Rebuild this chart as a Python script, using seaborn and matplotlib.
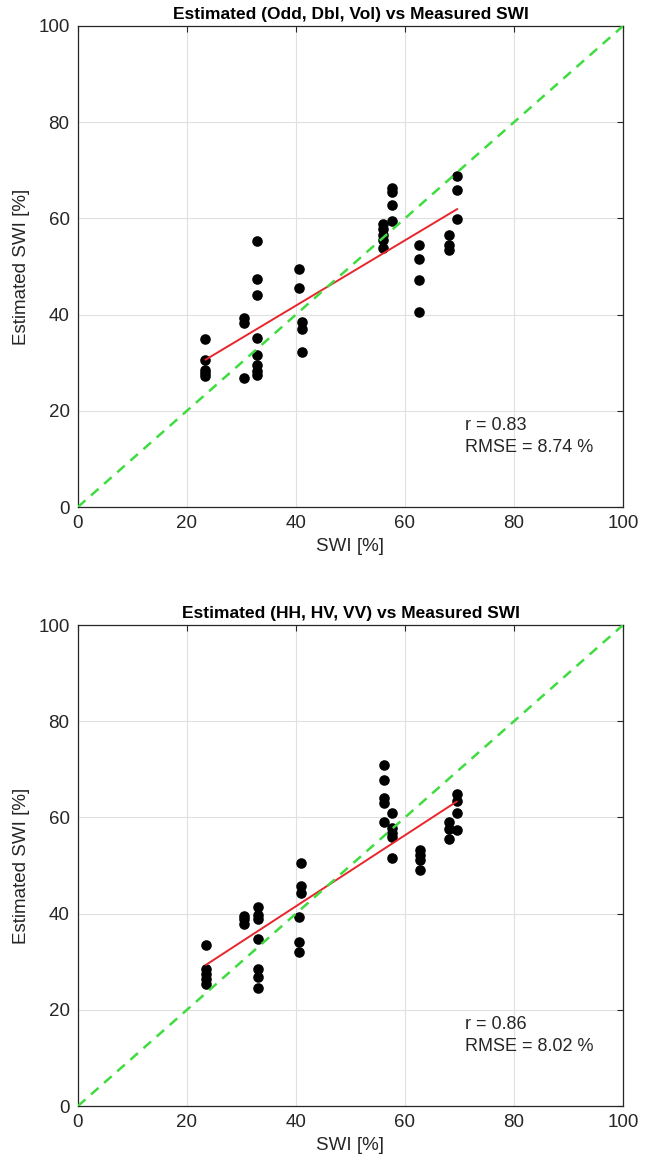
import numpy as np
import pandas as pd
import seaborn as sns
import matplotlib.pyplot as plt

# measured vs estimated SWI
odd_measured = [23.4, 23.4, 23.4, 23.4, 23.4,
                30.5, 30.5, 30.5,
                32.9, 32.9, 32.9, 32.9, 32.9, 32.9, 32.9, 32.9,
                40.6, 40.6,
                41.1, 41.1, 41.1,
                56.0, 56.0, 56.0, 56.0, 56.0,
                57.6, 57.6, 57.6, 57.6,
                62.6, 62.6, 62.6, 62.6,
                68.0, 68.0, 68.0,
                69.6, 69.6, 69.6]
odd_estimated = [35.0, 30.5, 28.5, 27.8, 27.2,
                 39.2, 38.3, 26.8,
                 55.4, 47.5, 44.0, 35.2, 31.5, 29.5, 28.2, 27.5,
                 49.4, 45.5,
                 38.5, 37.1, 32.2,
                 58.8, 57.8, 56.6, 55.5, 53.9,
                 66.4, 65.5, 62.7, 59.5,
                 54.4, 51.6, 47.1, 40.6,
                 56.6, 54.4, 53.4,
                 68.9, 66.0, 59.8]

hh_measured = [23.5, 23.5, 23.5, 23.5, 23.5,
               30.5, 30.5, 30.5,
               33.0, 33.0, 33.0, 33.0, 33.0, 33.0, 33.0,
               40.5, 40.5, 40.5,
               41.0, 41.0, 41.0,
               56.1, 56.1, 56.1, 56.1, 56.1,
               57.6, 57.6, 57.6, 57.6, 57.6,
               62.7, 62.7, 62.7, 62.7,
               68.0, 68.0, 68.0,
               69.5, 69.5, 69.5, 69.5]
hh_estimated = [33.4, 28.5, 27.4, 26.5, 25.4,
                39.5, 38.8, 37.9,
                41.4, 39.7, 38.8, 34.8, 28.5, 26.8, 24.6,
                39.3, 34.2, 32.0,
                50.6, 45.7, 44.3,
                70.8, 67.7, 64.0, 63.0, 59.1,
                61.0, 57.8, 56.8, 55.9, 51.5,
                53.3, 52.2, 51.1, 49.0,
                59.1, 57.6, 55.6,
                64.8, 63.4, 61.0, 57.4]

titles = ['Estimated (Odd, Dbl, Vol) vs Measured SWI',
          'Estimated (HH, HV, VV) vs Measured SWI']
r_text = ['r = 0.83', 'r = 0.86']
rmse_text = ['RMSE = 8.74 %', 'RMSE = 8.02 %']

sns.set_style('white')
plt.rcParams['font.family'] = ['Liberation Sans', 'DejaVu Sans']

fig = plt.figure(figsize=(6.6, 11.65), dpi=100)
ax_top = fig.add_axes([0.118, 0.5648, 0.826, 0.4129])
ax_bot = fig.add_axes([0.118, 0.0506, 0.826, 0.4129])

panels = [(ax_top, odd_measured, odd_estimated),
          (ax_bot, hh_measured, hh_estimated)]

for i, (ax, xs, ys) in enumerate(panels):
    df = pd.DataFrame({'measured': xs, 'estimated': ys})
    ax.grid(True, color='#e0e0e0', linewidth=0.8, zorder=0)
    ax.set_axisbelow(True)
    sns.regplot(data=df, x='measured', y='estimated', ax=ax, ci=None, truncate=True,
                scatter_kws={'color': 'black', 's': 58, 'alpha': 1, 'linewidths': 0, 'zorder': 3},
                line_kws={'color': '#e8262b', 'linewidth': 1.4, 'zorder': 4})
    # 1:1 reference line
    ax.axline((0, 0), slope=1, color='#3fdc3f', linestyle=(0, (4, 3)), linewidth=1.8, zorder=5)
    ax.set_xlim(0, 100)
    ax.set_ylim(0, 100)
    ax.set_xticks(range(0, 101, 20))
    ax.set_yticks(range(0, 101, 20))
    ax.tick_params(direction='in', length=4, width=0.8, top=True, right=True,
                   labelsize=13.5, colors='#262626', pad=6)
    for sp in ax.spines.values():
        sp.set_color('#262626')
        sp.set_linewidth(0.9)
    ax.set_title(titles[i], fontsize=12.5, fontweight='bold', color='black', pad=5)
    ax.set_xlabel('SWI [%]', fontsize=13.5, color='#262626', labelpad=4)
    ax.set_ylabel('Estimated SWI [%]', fontsize=13.5, color='#262626', labelpad=6)
    ax.text(71, 17, r_text[i], fontsize=13, color='#262626', va='center')
    ax.text(71, 12.4, rmse_text[i], fontsize=13, color='#262626', va='center')

fig.savefig('out.png', dpi=100)
